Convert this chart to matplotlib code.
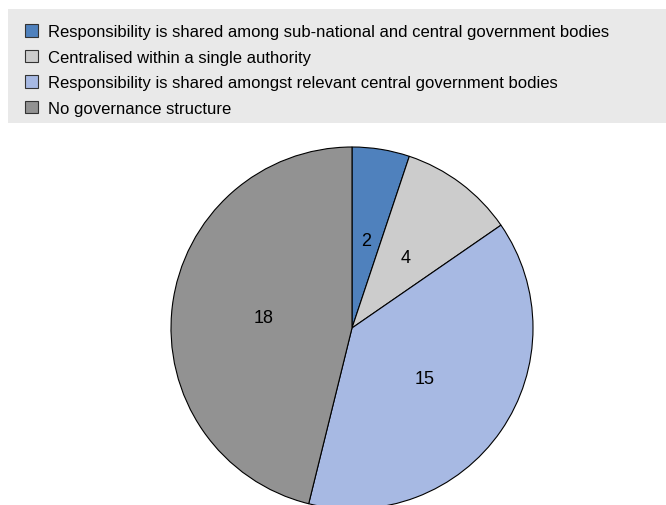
import matplotlib
matplotlib.use("Agg")
import matplotlib.pyplot as plt
from matplotlib.patches import Patch, Rectangle

categories = ["Responsibility is shared among sub-national and central government bodies",
              "Centralised within a single authority",
              "Responsibility is shared amongst relevant central government bodies",
              "No governance structure"]
values = [2, 4, 15, 18]
colors = ["#4F81BD", "#CCCCCC", "#A7B9E3", "#929292"]

plt.rcParams['font.family'] = ['Liberation Sans Narrow', 'Liberation Sans', 'DejaVu Sans']

W, H = 666, 506
fig = plt.figure(figsize=(W / 100, H / 100), dpi=100)

# legend background
fig.patches.append(Rectangle((8 / W, 1 - 124 / H), 1, 114 / H, transform=fig.transFigure,
                             facecolor="#E9E9E9", edgecolor="none", zorder=0))

cx, cy, r = 352, 329, 181
ax = fig.add_axes([(cx - r) / W, (H - cy - r) / H, 2 * r / W, 2 * r / H])
wedges, texts = ax.pie(values, colors=colors, startangle=90, counterclock=False,
                       labels=[str(v) for v in values], labeldistance=0.49,
                       wedgeprops=dict(edgecolor="black", linewidth=0.8),
                       textprops=dict(fontsize=13, ha="center", va="center"))
ax.set_xlim(-1, 1)
ax.set_ylim(-1, 1)
ax.set_aspect("equal")
ax.axis("off")

handles = [Patch(facecolor=c, edgecolor="#333333", linewidth=0.8) for c in colors]
fig.legend(handles, categories, loc="upper left", bbox_to_anchor=(25 / W, 1 - 25 / H),
           frameon=False, fontsize=12, handlelength=0.8, handleheight=0.8,
           handletextpad=0.6, labelspacing=0.62, borderpad=0, borderaxespad=0)

fig.savefig("out.png", dpi=100)
